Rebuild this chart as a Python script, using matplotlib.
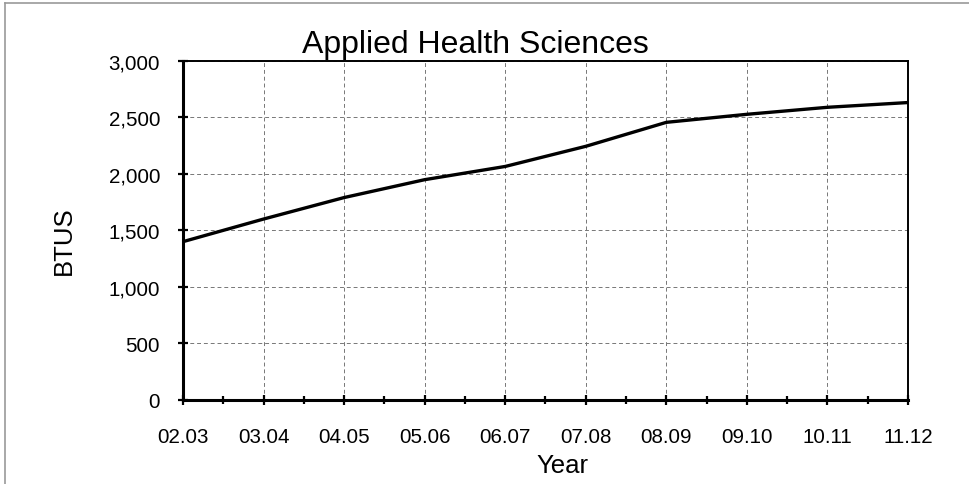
import matplotlib
matplotlib.use("Agg")
import matplotlib.pyplot as plt
from matplotlib.lines import Line2D
from matplotlib.ticker import FuncFormatter, MultipleLocator

plt.rcParams['font.family'] = ['Liberation Sans', 'DejaVu Sans']

# Data
years = ["02.03", "03.04", "04.05", "05.06", "06.07",
         "07.08", "08.09", "09.10", "10.11", "11.12"]
btus = [1400, 1600, 1790, 1948, 2065, 2243, 2455, 2526, 2588, 2630]

W, H = 970, 485
fig = plt.figure(figsize=(W / 100, H / 100), dpi=100)
ax = fig.add_axes([183 / W, 1 - 401 / H, 725 / W, 339.3 / H])

x = list(range(len(years)))
ax.plot(x, btus, color='black', linewidth=2.4, solid_capstyle='butt', zorder=3)

ax.set_xlim(0, len(years) - 1)
ax.set_ylim(0, 3000)
ax.set_xticks(x)
ax.set_xticklabels(years)
ax.xaxis.set_minor_locator(MultipleLocator(0.5))
ax.yaxis.set_major_locator(MultipleLocator(500))
ax.yaxis.set_major_formatter(FuncFormatter(lambda v, p: f"{int(v):,}"))

ax.grid(True, which='major', linestyle=(0, (4, 3)), color='#777777', linewidth=0.7)
ax.set_axisbelow(True)

for side in ['left', 'bottom']:
    ax.spines[side].set_linewidth(2.2)
for side in ['top', 'right']:
    ax.spines[side].set_linewidth(1.4)

ax.tick_params(axis='both', which='major', direction='inout', length=7, width=1.6,
               labelsize=14.8)
ax.tick_params(axis='x', which='minor', direction='inout', length=6, width=1.6)
ax.tick_params(axis='x', which='major', pad=16)
ax.tick_params(axis='y', which='major', pad=13)

fig.text(475 / W, 1 - 53 / H, "Applied Health Sciences", fontsize=23,
         ha='center', va='baseline')
fig.text(562 / W, 1 - 466 / H, "Year", fontsize=18.5, ha='center', va='center')
fig.text(64 / W, 1 - 241 / H, "BTUS", fontsize=18.5, rotation=90,
         ha='center', va='center')

# partial outer frame of the figure
fig.add_artist(Line2D([5 / W, 5 / W], [0, 1 - 4 / H], transform=fig.transFigure,
                      color='#999999', linewidth=1.2))
fig.add_artist(Line2D([5 / W, 1], [1 - 4 / H, 1 - 4 / H], transform=fig.transFigure,
                      color='#999999', linewidth=1.2))

fig.savefig("out.png", dpi=100)
